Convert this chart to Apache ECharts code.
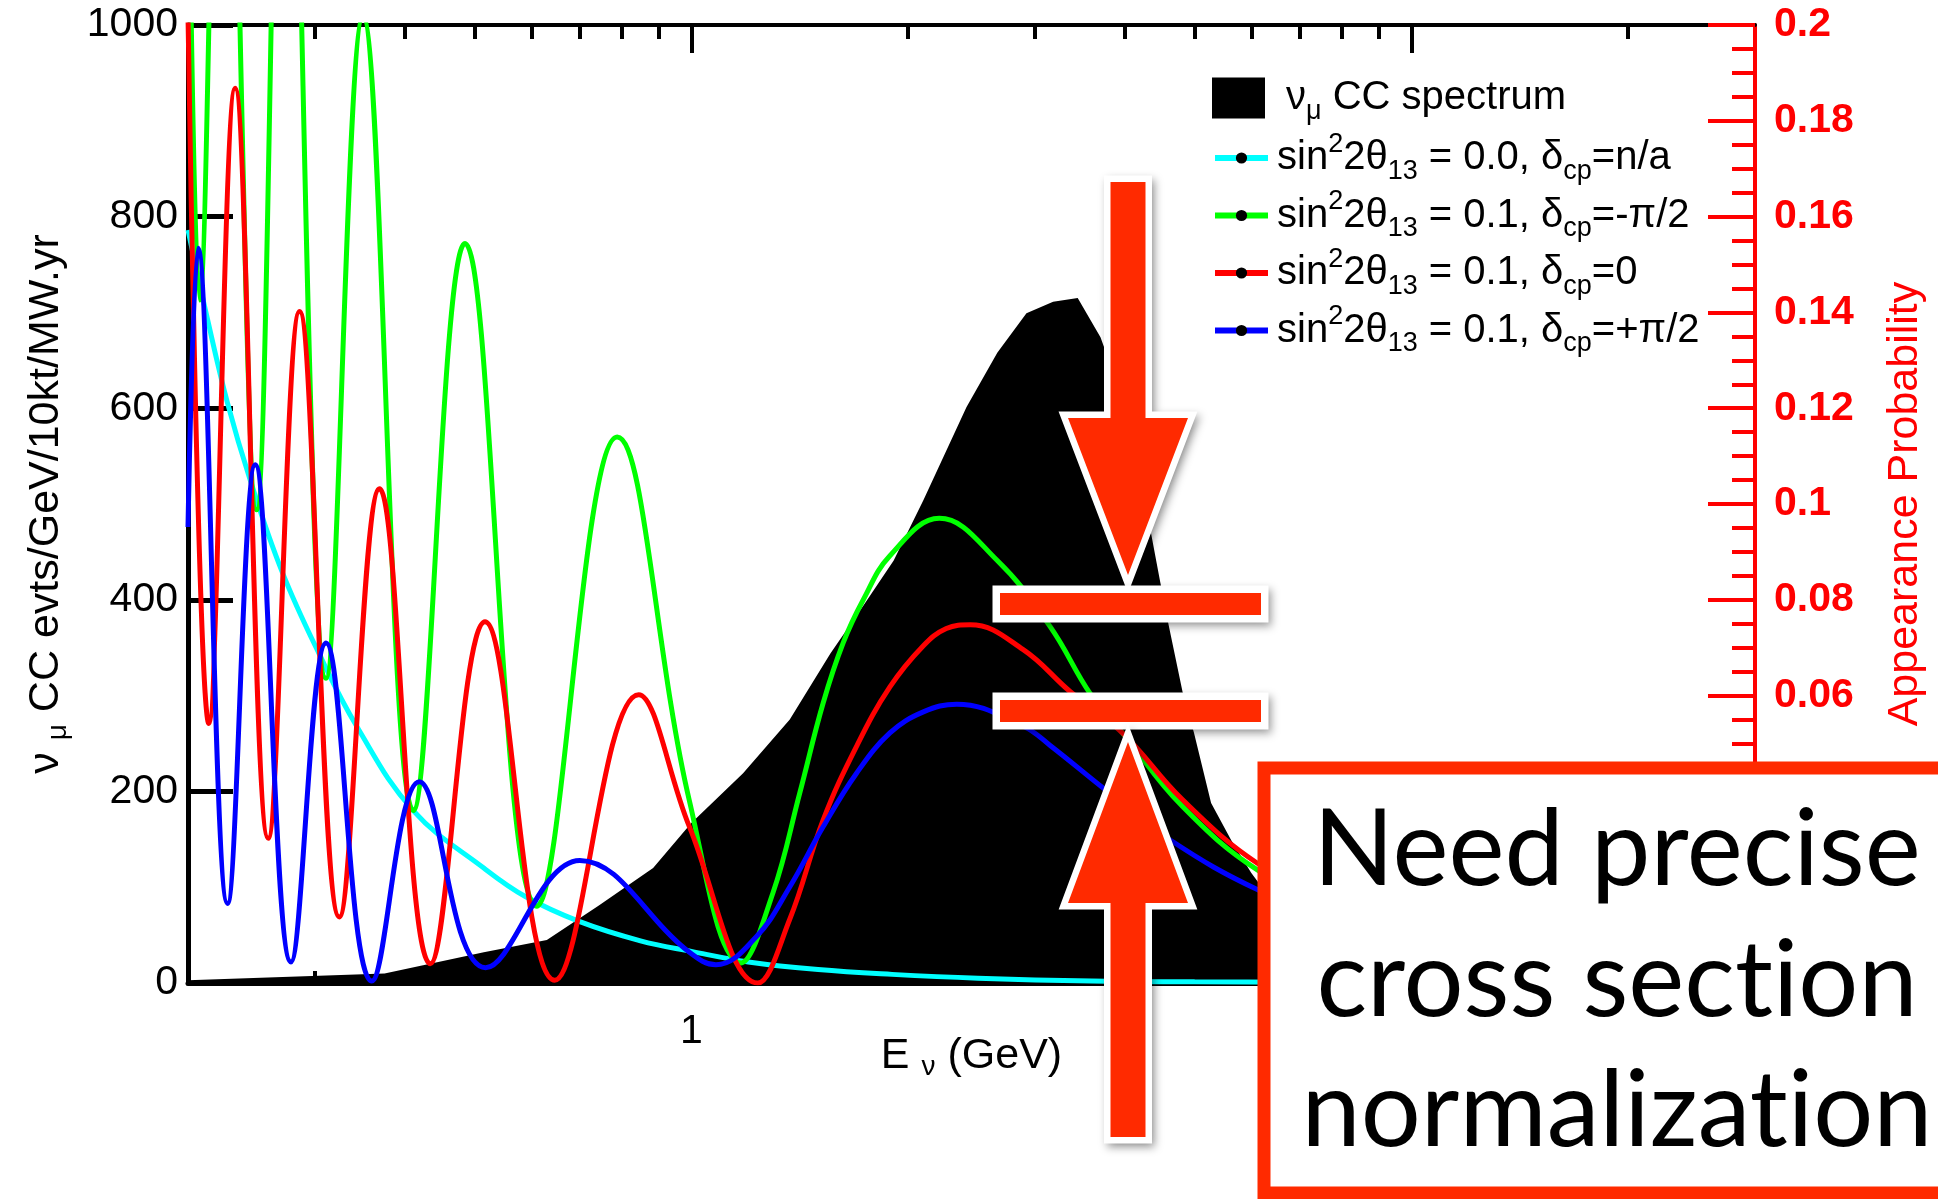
<!DOCTYPE html>
<html>
<head>
<meta charset="utf-8">
<title>nu_mu CC spectrum and appearance probability</title>
<script src="https://cdn.jsdelivr.net/npm/echarts@6/dist/echarts.min.js"></script>
<style>
html, body { margin: 0; padding: 0; background: #fff; }
#chart { width: 1938px; height: 1199px; }
</style>
</head>
<body>
<div id="chart"></div>
<script>
// values, E in GeV
const specE = [0.2, 0.375, 0.515, 0.63, 0.744, 0.885, 1.0, 1.18, 1.37, 1.56, 1.73, 1.91, 2.1, 2.41, 2.66, 2.92, 3.18, 3.44, 3.7, 3.95, 4.15, 4.34, 4.48, 4.6, 4.81, 4.99, 5.27, 5.62, 5.99, 6.2, 7, 8, 10, 15, 20, 30];
const specV = [3, 10, 32, 45, 81, 120, 167, 219, 275, 344, 393, 441, 504, 601, 658, 699, 711, 715, 674, 615, 545, 473, 418, 374, 304, 261, 188, 149, 115, 100, 62, 38, 18, 6, 3, 1];

const cyanE = [0.2, 0.213, 0.227, 0.244, 0.27, 0.304, 0.343, 0.411, 0.515, 0.589, 0.7, 0.85, 1.0, 1.2, 1.5, 1.9, 2.5, 3.6, 5, 7, 10, 20, 30];
const cyanV = [786, 692, 605, 525, 430, 344, 268, 180, 120, 90, 64, 44, 33, 22, 14, 9, 5, 2, 1.2, 0.8, 0.4, 0.1, 0.05];

const greenE = [0.2, 0.2075, 0.224, 0.249, 0.273, 0.311, 0.35, 0.411, 0.485, 0.61, 0.789, 0.994, 1.173, 1.298, 1.414, 1.524, 1.625, 1.733, 1.887, 2.21, 2.66, 3.15, 3.58, 3.97, 4.8, 6.11, 8, 10, 15, 20, 30];
const greenV = [1250, 713, 1500, 494, 1450, 318, 1008, 180, 772, 80, 570, 190, 21, 94, 198, 292, 355, 400, 446, 485, 441, 372, 302, 261, 185, 118, 75, 52, 25, 15, 7];

const redE = [0.2, 0.2138, 0.2325, 0.2585, 0.2857, 0.3245, 0.369, 0.434, 0.517, 0.646, 0.845, 0.994, 1.237, 1.369, 1.524, 1.696, 1.887, 2.1, 2.26, 2.44, 2.89, 3.36, 3.97, 4.8, 6.11, 8, 10, 15, 20, 30];
const redV = [1010, 271, 934, 151, 701, 69, 516, 20, 377, 3, 301, 163, 0, 66, 170, 247, 309, 352, 370, 374, 348, 304, 261, 192, 125, 80, 55, 26, 15, 7];

const blueE = [0.2, 0.2065, 0.227, 0.248, 0.278, 0.311, 0.36, 0.419, 0.518, 0.7, 0.994, 1.082, 1.23, 1.369, 1.524, 1.696, 1.887, 2.1, 2.337, 2.89, 3.15, 3.74, 4.63, 6.13, 8, 10, 15, 20, 30];
const blueV = [476, 767, 83, 541, 22, 355, 2, 210, 16, 128, 32, 19, 48, 100, 163, 219, 261, 283, 291, 268, 248, 203, 149, 97, 64, 44, 21, 12, 5];

const xMajorTicks = [1, 10];
const xMinorTicks = [0.3, 0.4, 0.5, 0.6, 0.7, 0.8, 0.9, 2, 3, 4, 5, 6, 7, 8, 9, 20];
const xTickLabels = [1, 10];

const legendLabels = {
    spec: '{f|ν}{sub|μ}{n| CC spectrum}',
    c0: '{a|sin}{sup|2}{n|2θ}{sub|13}{n| = 0.0, δ}{sub|cp}{n|=n/a}',
    gm: '{a|sin}{sup|2}{n|2θ}{sub|13}{n| = 0.1, δ}{sub|cp}{n|=-π/2}',
    r0: '{a|sin}{sup|2}{n|2θ}{sub|13}{n| = 0.1, δ}{sub|cp}{n|=0}',
    bp: '{a|sin}{sup|2}{n|2θ}{sub|13}{n| = 0.1, δ}{sub|cp}{n|=+π/2}'
};
// split into rich tokens so that Lato does not join "t" and "i"
const noteLines = ['{g|Need precise}', '{g|cross sect}{g|ion}', '{g|normalizat}{g|ion}'];

const FONT = 'Liberation Sans';
const RED = '#ff2a00';

function pairs(xs, ys) {
    return xs.map((x, i) => [x, ys[i]]);
}

const legendRich = {
    a: { fontFamily: FONT, fontSize: 40, lineHeight: 54, color: '#000', padding: [0, 0, 0, 4] },
    f: { fontFamily: FONT, fontSize: 40, lineHeight: 48, color: '#000', padding: [0, 0, 0, 16] },
    n: { fontFamily: FONT, fontSize: 40, lineHeight: 54, color: '#000' },
    sup: { fontFamily: FONT, fontSize: 27, lineHeight: 20, verticalAlign: 'top', color: '#000' },
    sub: { fontFamily: FONT, fontSize: 27, lineHeight: 20, verticalAlign: 'bottom', color: '#000' }
};

const xBase = { type: 'log', logBase: 10, min: 0.2, max: 30, splitLine: { show: false } };
const blackTick = { color: '#000', width: 4 };

function lineSeries(name, xs, ys, color) {
    return {
        name: name,
        type: 'line',
        data: pairs(xs, ys),
        smooth: 0.4,
        symbol: 'circle',
        symbolSize: 12,
        showSymbol: false,
        lineStyle: { color: color, width: 5 },
        itemStyle: { color: '#000' },
        silent: true,
        z: 3
    };
}

function arrow(cx, tailY, baseY, tipY, halfShaft, halfHead) {
    return [[cx - halfShaft, tailY], [cx + halfShaft, tailY], [cx + halfShaft, baseY], [cx + halfHead, baseY],
        [cx, tipY], [cx - halfHead, baseY], [cx - halfShaft, baseY]];
}

const shadow = { shadowBlur: 8, shadowOffsetX: 3, shadowOffsetY: 4, shadowColor: 'rgba(0,0,0,0.35)' };
const downArrow = arrow(1128, 182, 418, 575, 17.5, 60);
const upArrow = arrow(1128, 1137, 903, 742, 17.5, 60);

const noteText = noteLines.map((t, i) => ({
    type: 'text', z: 111, x: 1617, y: 851 + i * 130.5,
    style: {
        text: t, fontFamily: 'Lato', fontSize: 106, fill: '#000', align: 'center', verticalAlign: 'middle',
        rich: { g: { fontFamily: 'Lato', fontSize: 106, fill: '#000' } }
    }
}));

const option = {
    animation: false,
    backgroundColor: '#fff',
    grid: { left: 188, right: 183, top: 25, bottom: 216, containLabel: false, outerBoundsMode: 'none' },
    legend: [
        {
            data: [{ name: 'spec', icon: 'rect' }],
            left: 1212, top: 77.5, orient: 'vertical', padding: 0,
            itemWidth: 53, itemHeight: 41, selectedMode: false,
            itemStyle: { color: '#000' },
            formatter: (name) => legendLabels[name],
            textStyle: { fontFamily: FONT, fontSize: 40, color: '#000', rich: legendRich }
        },
        {
            data: ['c0', 'gm', 'r0', 'bp'],
            left: 1212, top: 131, orient: 'vertical', padding: 0,
            itemWidth: 53, itemHeight: 14, itemGap: 3.5, selectedMode: false,
            itemStyle: { color: '#000' },
            lineStyle: { width: 6 },
            formatter: (name) => legendLabels[name],
            textStyle: { fontFamily: FONT, fontSize: 40, color: '#000', rich: legendRich }
        }
    ],
    xAxis: [
        Object.assign({}, xBase, {
            position: 'bottom',
            axisLine: { onZero: false, lineStyle: { color: '#000', width: 5 } },
            axisTick: { inside: true, length: 28, customValues: xMajorTicks, lineStyle: blackTick },
            axisLabel: { customValues: xTickLabels, fontFamily: FONT, fontSize: 41, color: '#000', margin: 28 },
            name: '{n|E }{s|ν}{n| (GeV)}',
            nameLocation: 'middle',
            nameGap: 48,
            nameMoveOverlap: false,
            nameTextStyle: {
                fontFamily: FONT, fontSize: 43, color: '#000',
                rich: {
                    n: { fontFamily: FONT, fontSize: 43, lineHeight: 50, color: '#000' },
                    s: { fontFamily: FONT, fontSize: 28, lineHeight: 20, verticalAlign: 'bottom', color: '#000' }
                }
            }
        }),
        Object.assign({}, xBase, {
            position: 'bottom',
            axisLine: { show: false, onZero: false },
            axisTick: { inside: true, length: 12, customValues: xMinorTicks, lineStyle: blackTick },
            axisLabel: { show: false }
        }),
        Object.assign({}, xBase, {
            position: 'top',
            axisLine: { onZero: false, lineStyle: { color: '#000', width: 4 } },
            axisTick: { inside: true, length: 28, customValues: xMajorTicks, lineStyle: blackTick },
            axisLabel: { show: false }
        }),
        Object.assign({}, xBase, {
            position: 'top',
            axisLine: { show: false, onZero: false },
            axisTick: { inside: true, length: 14, customValues: xMinorTicks, lineStyle: blackTick },
            axisLabel: { show: false }
        })
    ],
    yAxis: [
        {
            type: 'value', min: 0, max: 1000, interval: 200, position: 'left',
            splitLine: { show: false },
            axisLine: { show: true, onZero: false, lineStyle: { color: '#000', width: 5 } },
            axisTick: { show: true, inside: true, length: 45, lineStyle: { color: '#000', width: 5 } },
            axisLabel: { fontFamily: FONT, fontSize: 41, color: '#000', margin: 10, formatter: (v) => String(v) },
            name: '{n|ν }{s|μ}{n| CC evts/GeV/10kt/MW.yr}',
            nameLocation: 'middle',
            nameRotate: 90,
            nameGap: 116,
            nameMoveOverlap: false,
            nameTextStyle: {
                fontFamily: FONT, fontSize: 43, color: '#000',
                rich: {
                    n: { fontFamily: FONT, fontSize: 43, lineHeight: 52, color: '#000' },
                    s: { fontFamily: FONT, fontSize: 28, lineHeight: 20, verticalAlign: 'bottom', color: '#000' }
                }
            }
        },
        {
            type: 'value', min: 0, max: 0.2, interval: 0.02, position: 'right',
            splitLine: { show: false },
            minorSplitLine: { show: false },
            axisLine: { show: true, onZero: false, lineStyle: { color: '#ff0000', width: 4 } },
            axisTick: { show: true, inside: true, length: 47, lineStyle: { color: '#ff0000', width: 4 } },
            minorTick: { show: true, splitNumber: 4, length: 23, lineStyle: { color: '#ff0000', width: 4 } },
            axisLabel: { fontFamily: FONT, fontSize: 41, fontWeight: 'bold', color: '#ff0000', margin: 19 },
            name: 'Appearance Probability',
            nameLocation: 'middle',
            nameRotate: 90,
            nameGap: 129,
            nameMoveOverlap: false,
            nameTextStyle: { fontFamily: FONT, fontSize: 43, color: '#ff0000' }
        }
    ],
    series: [
        {
            name: 'spec',
            type: 'line',
            data: pairs(specE, specV),
            color: '#000',
            symbol: 'none',
            lineStyle: { width: 0, color: '#000' },
            areaStyle: { color: '#000', opacity: 1 },
            silent: true,
            z: 1
        },
        lineSeries('c0', cyanE, cyanV, '#00ffff'),
        lineSeries('gm', greenE, greenV, '#00ff00'),
        lineSeries('r0', redE, redV, '#ff0000'),
        lineSeries('bp', blueE, blueV, '#0000ff')
    ],
    graphic: [
        // down arrow
        { type: 'polygon', z: 100, shape: { points: downArrow },
          style: Object.assign({ fill: '#fff', stroke: '#fff', lineWidth: 13, lineJoin: 'miter' }, shadow) },
        { type: 'polygon', z: 101, shape: { points: downArrow }, style: { fill: RED } },
        // "=" bars
        { type: 'rect', z: 100, shape: { x: 1000, y: 593, width: 261, height: 22 },
          style: Object.assign({ fill: '#fff', stroke: '#fff', lineWidth: 15 }, shadow) },
        { type: 'rect', z: 101, shape: { x: 1000, y: 593, width: 261, height: 22 }, style: { fill: RED } },
        { type: 'rect', z: 100, shape: { x: 1000, y: 700, width: 261, height: 22 },
          style: Object.assign({ fill: '#fff', stroke: '#fff', lineWidth: 15 }, shadow) },
        { type: 'rect', z: 101, shape: { x: 1000, y: 700, width: 261, height: 22 }, style: { fill: RED } },
        // up arrow
        { type: 'polygon', z: 100, shape: { points: upArrow },
          style: Object.assign({ fill: '#fff', stroke: '#fff', lineWidth: 13, lineJoin: 'miter' }, shadow) },
        { type: 'polygon', z: 101, shape: { points: upArrow }, style: { fill: RED } },
        // note box
        { type: 'rect', z: 110, shape: { x: 1264, y: 768, width: 800, height: 425 },
          style: { fill: '#fff', stroke: RED, lineWidth: 13 } }
    ].concat(noteText)
};

const chart = echarts.init(document.getElementById('chart'), null, { renderer: 'canvas' });
chart.setOption(option);
</script>
</body>
</html>
